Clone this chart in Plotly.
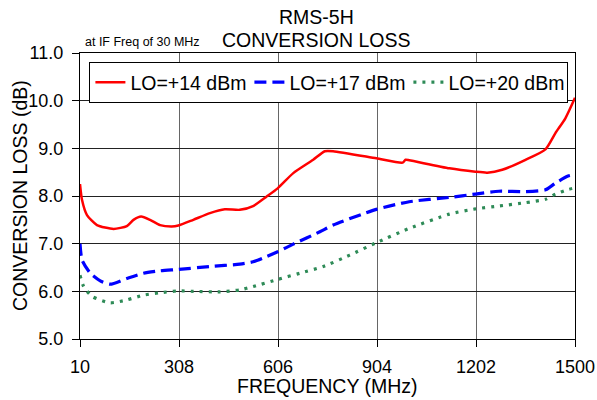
import plotly.graph_objects as go

freq_14 = [10, 16, 31, 61, 111, 151, 171, 194, 221, 251, 286, 306, 351, 401, 446, 491, 531, 572, 605, 652, 712, 747, 772, 902, 981, 990, 1001, 1122, 1200, 1236, 1281, 1351, 1411, 1441, 1471, 1500]
loss_14 = [8.25, 7.92, 7.60, 7.39, 7.31, 7.37, 7.50, 7.57, 7.50, 7.39, 7.36, 7.38, 7.50, 7.64, 7.72, 7.71, 7.79, 7.99, 8.16, 8.48, 8.76, 8.94, 8.94, 8.79, 8.70, 8.76, 8.75, 8.58, 8.51, 8.49, 8.55, 8.76, 8.98, 9.32, 9.63, 10.06]

freq_17 = [10, 16, 41, 71, 101, 151, 201, 251, 306, 401, 491, 531, 572, 605, 652, 732, 772, 902, 1001, 1122, 1200, 1271, 1351, 1411, 1441, 1479, 1500]
loss_17 = [7.00, 6.66, 6.38, 6.22, 6.15, 6.27, 6.38, 6.43, 6.46, 6.52, 6.57, 6.62, 6.73, 6.83, 6.99, 7.25, 7.39, 7.72, 7.88, 7.97, 8.04, 8.10, 8.09, 8.13, 8.27, 8.42, 8.45]

freq_20 = [10, 21, 47, 101, 151, 201, 251, 306, 351, 431, 491, 531, 605, 672, 742, 822, 902, 1001, 1122, 1200, 1271, 1351, 1411, 1441, 1481, 1500]
loss_20 = [6.34, 6.10, 5.89, 5.76, 5.82, 5.92, 5.97, 6.01, 6.00, 5.99, 6.03, 6.10, 6.25, 6.38, 6.52, 6.76, 7.02, 7.32, 7.62, 7.73, 7.79, 7.86, 7.93, 8.04, 8.14, 8.17]

x_ticks = [10, 308, 606, 904, 1202, 1500]
y_ticks = [5.0, 6.0, 7.0, 8.0, 9.0, 10.0, 11.0]

FONT = "Arial, Liberation Sans, sans-serif"

fig = go.Figure()
fig.add_trace(go.Scatter(x=freq_14, y=loss_14, mode="lines", name="LO=+14 dBm",
                         line=dict(color="#ff0000", width=2.5, shape="spline", smoothing=0.6)))
fig.add_trace(go.Scatter(x=freq_17, y=loss_17, mode="lines", name="LO=+17 dBm",
                         line=dict(color="#0000ff", width=3.2, dash="12px,6px", shape="spline", smoothing=0.6)))
fig.add_trace(go.Scatter(x=freq_20, y=loss_20, mode="lines", name="LO=+20 dBm",
                         line=dict(color="#2e8b57", width=3.2, dash="3px,6px", shape="spline", smoothing=0.6)))

fig.update_layout(
    width=597, height=400,
    margin=dict(l=80, r=22, t=53, b=61, autoexpand=False),
    paper_bgcolor="white", plot_bgcolor="white",
    font=dict(family=FONT, size=18, color="black"),
    showlegend=True,
    legend=dict(orientation="h", x=0.019, y=0.9685, xanchor="left", yanchor="top",
                bgcolor="white", bordercolor="black", borderwidth=1,
                font=dict(family=FONT, size=19.5, color="black"), itemwidth=30,
                entrywidth=114, tracegroupgap=0),
    xaxis=dict(range=[10, 1500], tickvals=x_ticks, ticktext=[str(v) for v in x_ticks],
               showgrid=True, gridcolor="#666666", gridwidth=1.2, zeroline=False,
               showline=True, linecolor="black", linewidth=1.2, mirror=True,
               ticks="outside", ticklen=7, tickcolor="black", automargin=False,
               tickfont=dict(size=18), ticklabelstandoff=4),
    yaxis=dict(range=[5.0, 11.0], tickvals=y_ticks, ticktext=[f"{v:.1f}" for v in y_ticks],
               showgrid=True, gridcolor="#222222", gridwidth=1.2, zeroline=False,
               showline=True, linecolor="black", linewidth=1.2, mirror=True,
               ticks="outside", ticklen=7, tickcolor="black", automargin=False,
               tickfont=dict(size=18), ticklabelstandoff=5),
    annotations=[
        dict(text="RMS-5H", xref="paper", yref="paper", x=0.477, y=1.0, yshift=36,
             xanchor="center", yanchor="middle", showarrow=False,
             font=dict(family=FONT, size=19.5, color="black")),
        dict(text="CONVERSION LOSS", xref="paper", yref="paper", x=0.477, y=1.0, yshift=13,
             xanchor="center", yanchor="middle", showarrow=False,
             font=dict(family=FONT, size=19.5, color="black")),
        dict(text="at IF Freq of 30 MHz", xref="paper", yref="paper", x=0.0, xshift=3, y=1.0,
             yshift=11, xanchor="left", yanchor="middle", showarrow=False,
             font=dict(family=FONT, size=12.5, color="black")),
        dict(text="FREQUENCY (MHz)", xref="paper", yref="paper", x=0.5, y=0.0, yshift=-47,
             xanchor="center", yanchor="middle", showarrow=False,
             font=dict(family=FONT, size=19.5, color="black")),
        dict(text="CONVERSION LOSS (dB)", xref="paper", yref="paper", x=0.0, xshift=-60, y=0.5,
             xanchor="center", yanchor="middle", textangle=-90, showarrow=False,
             font=dict(family=FONT, size=19.5, color="black")),
    ],
)

fig.write_html("out.html", config={"displayModeBar": False},
               post_script="document.body.style.margin='0';")
